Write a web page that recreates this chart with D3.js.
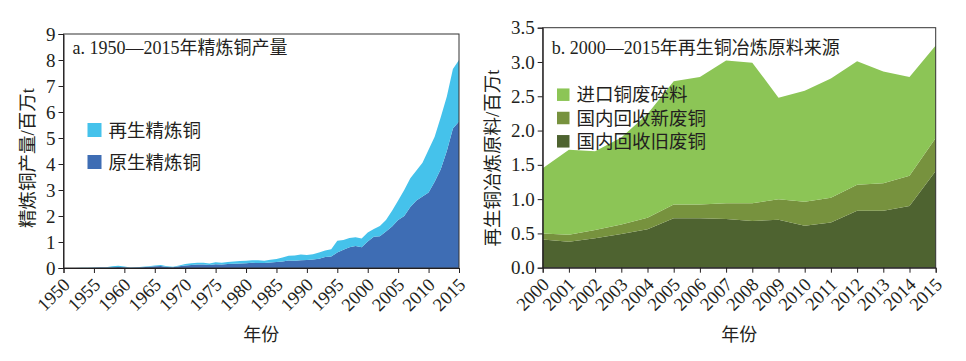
<!DOCTYPE html>
<html>
<head>
<meta charset="utf-8">
<script src="https://cdn.jsdelivr.net/npm/d3@7"></script>
<style>
  body { margin: 0; background: #fff; }
  svg text { font-family: "Liberation Serif", "Times New Roman", "Noto Sans CJK SC", serif; fill: #231f20; }
</style>
</head>
<body>
<svg id="chart" width="966" height="361"></svg>
<script>
// panel a: refined copper output 1950-2015 (million t)
var yearsA = d3.range(1950, 2016);
var primary = [0, 0, 0, 0, 0, 0.01, 0.02, 0.02, 0.03, 0.04,
  0.03, 0.01, 0.02, 0.03, 0.05, 0.07, 0.08, 0.04, 0.03, 0.07,
  0.1, 0.12, 0.13, 0.13, 0.12, 0.14, 0.13, 0.15, 0.16, 0.17,
  0.18, 0.2, 0.19, 0.19, 0.21, 0.23, 0.25, 0.29, 0.28, 0.3,
  0.31, 0.33, 0.36, 0.42, 0.44, 0.6, 0.7, 0.8, 0.85, 0.8,
  1.02, 1.2, 1.22, 1.4, 1.6, 1.85, 2.0, 2.35, 2.6, 2.75,
  2.9, 3.32, 3.8, 4.5, 5.37, 5.63];
var secondary = [0, 0, 0, 0.005, 0.01, 0.01, 0.01, 0.01, 0.04, 0.05,
  0.03, 0.01, 0.01, 0.02, 0.02, 0.03, 0.04, 0.03, 0.02, 0.03,
  0.05, 0.06, 0.07, 0.07, 0.05, 0.08, 0.07, 0.08, 0.09, 0.1,
  0.1, 0.1, 0.11, 0.09, 0.11, 0.12, 0.15, 0.18, 0.2, 0.22,
  0.19, 0.2, 0.24, 0.25, 0.28, 0.45, 0.38, 0.35, 0.33, 0.33,
  0.35, 0.3, 0.4, 0.45, 0.6, 0.75, 1.0, 1.1, 1.15, 1.3,
  1.65, 1.73, 2.0, 2.1, 2.28, 2.37];
var seriesA = ['原生精炼铜', '再生精炼铜'];
var colorsA = ['#3e6db4', '#45c2eb'];
var ticksA = [0, 1, 2, 3, 4, 5, 6, 7, 8, 9];

// panel b: raw material sources of secondary copper 2000-2015 (million t)
var yearsB = d3.range(2000, 2016);
var oldScrap = [0.41, 0.38, 0.43, 0.49, 0.56, 0.72, 0.72, 0.71, 0.68, 0.7, 0.61, 0.66, 0.83, 0.83, 0.9, 1.41];
var newScrap = [0.09, 0.1, 0.12, 0.14, 0.17, 0.2, 0.2, 0.23, 0.26, 0.3, 0.35, 0.36, 0.38, 0.4, 0.44, 0.48];
var importScrap = [0.95, 1.24, 1.15, 1.27, 1.51, 1.8, 1.86, 2.08, 2.05, 1.48, 1.62, 1.74, 1.8, 1.63, 1.44, 1.35];
var seriesB = ['国内回收旧废铜', '国内回收新废铜', '进口铜废碎料'];
var colorsB = ['#4e6330', '#77923e', '#8cc556'];
var ticksB = [0, 0.5, 1, 1.5, 2, 2.5, 3, 3.5];

var FONT = '"Liberation Serif", "Times New Roman", "Noto Sans CJK SC", serif';
var svg = d3.select('#chart');

function drawPanel(opt) {
  var x = d3.scaleLinear().domain(opt.xDomain).range([opt.left, opt.right]);
  var y = d3.scaleLinear().domain(opt.yDomain).range([opt.bottom, opt.top]);

  var rows = opt.years.map(function(yr, i) {
    var r = { year: yr };
    opt.keys.forEach(function(k, j) { r[k] = opt.values[j][i]; });
    return r;
  });
  var stacked = d3.stack().keys(opt.keys)(rows);

  var area = d3.area()
    .x(function(d) { return x(d.data.year); })
    .y0(function(d) { return y(d[0]); })
    .y1(function(d) { return y(d[1]); });

  var g = svg.append('g');
  g.selectAll('path.layer')
    .data(stacked)
    .enter().append('path')
    .attr('class', 'layer')
    .attr('d', area)
    .style('fill', function(d, i) { return opt.colors[i]; });

  // frame
  g.append('rect')
    .attr('x', opt.left).attr('y', opt.top)
    .attr('width', opt.right - opt.left).attr('height', opt.bottom - opt.top)
    .style('fill', 'none').style('stroke', '#333').style('stroke-width', 1);

  var yAxis = g.append('g')
    .attr('transform', 'translate(' + opt.left + ',0)')
    .call(d3.axisLeft(y).tickValues(opt.yTicks).tickFormat(d3.format(opt.yFormat)).tickSize(5).tickPadding(3));
  yAxis.attr('font-family', FONT).attr('font-size', 19);
  yAxis.selectAll('text').style('font-family', FONT).style('font-size', '19px');

  var xAxis = g.append('g')
    .attr('transform', 'translate(0,' + opt.bottom + ')')
    .call(d3.axisBottom(x).tickValues(opt.xTicks).tickFormat(d3.format('d')).tickSize(5));
  xAxis.attr('font-family', FONT).attr('font-size', 18.5);
  xAxis.selectAll('text')
    .attr('x', 0).attr('y', 0).attr('dy', 0)
    .attr('transform', 'translate(7,18) rotate(-45)')
    .style('text-anchor', 'end')
    .style('font-family', FONT)
    .style('font-size', '18.5px');
  g.selectAll('.domain, .tick line').style('stroke', '#231f20');

  g.append('text')
    .attr('x', opt.left + 9).attr('y', 54)
    .style('font-size', '18px')
    .text(opt.title);

  g.append('text')
    .attr('x', (opt.left + opt.right) / 2).attr('y', 341)
    .style('text-anchor', 'middle').style('font-size', '18px')
    .text('年份');

  g.append('text')
    .attr('transform', 'translate(' + opt.yLabelX + ',158) rotate(-90)')
    .attr('dy', '0.35em')
    .style('text-anchor', 'middle').style('font-size', '18.5px')
    .text(opt.yLabel);

  // legend, listed top-down in reverse stack order
  var leg = g.selectAll('g.legend')
    .data(opt.keys.slice().reverse())
    .enter().append('g')
    .attr('class', 'legend')
    .attr('transform', function(d, i) {
      return 'translate(' + opt.legX + ',' + (opt.legY + i * opt.legStep) + ')';
    });
  leg.append('rect')
    .attr('x', 0).attr('y', -opt.legBox / 2)
    .attr('width', opt.legBox).attr('height', opt.legBox)
    .style('fill', function(d) { return opt.colors[opt.keys.indexOf(d)]; });
  leg.append('text')
    .attr('x', opt.legBox + 7).attr('dy', '0.36em')
    .style('font-size', '18.5px')
    .text(function(d) { return d; });
}

drawPanel({
  years: yearsA, keys: seriesA, values: [primary, secondary], colors: colorsA,
  xDomain: [1950, 2015], yDomain: [0, 9],
  left: 63.5, right: 459, top: 34, bottom: 268,
  xTicks: d3.range(1950, 2016, 5), yTicks: ticksA, yFormat: 'd',
  title: 'a. 1950—2015年精炼铜产量', yLabel: '精炼铜产量/百万t', yLabelX: 27.5,
  legX: 87.5, legY: 130, legStep: 32, legBox: 14
});

drawPanel({
  years: yearsB, keys: seriesB, values: [oldScrap, newScrap, importScrap], colors: colorsB,
  xDomain: [2000, 2015], yDomain: [0, 3.5],
  left: 542.7, right: 935.7, top: 27.7, bottom: 267.7,
  xTicks: yearsB, yTicks: ticksB, yFormat: '.1f',
  title: 'b. 2000—2015年再生铜冶炼原料来源', yLabel: '再生铜冶炼原料/百万t', yLabelX: 493,
  legX: 557, legY: 94.7, legStep: 23.3, legBox: 12.5
});
</script>
</body>
</html>
